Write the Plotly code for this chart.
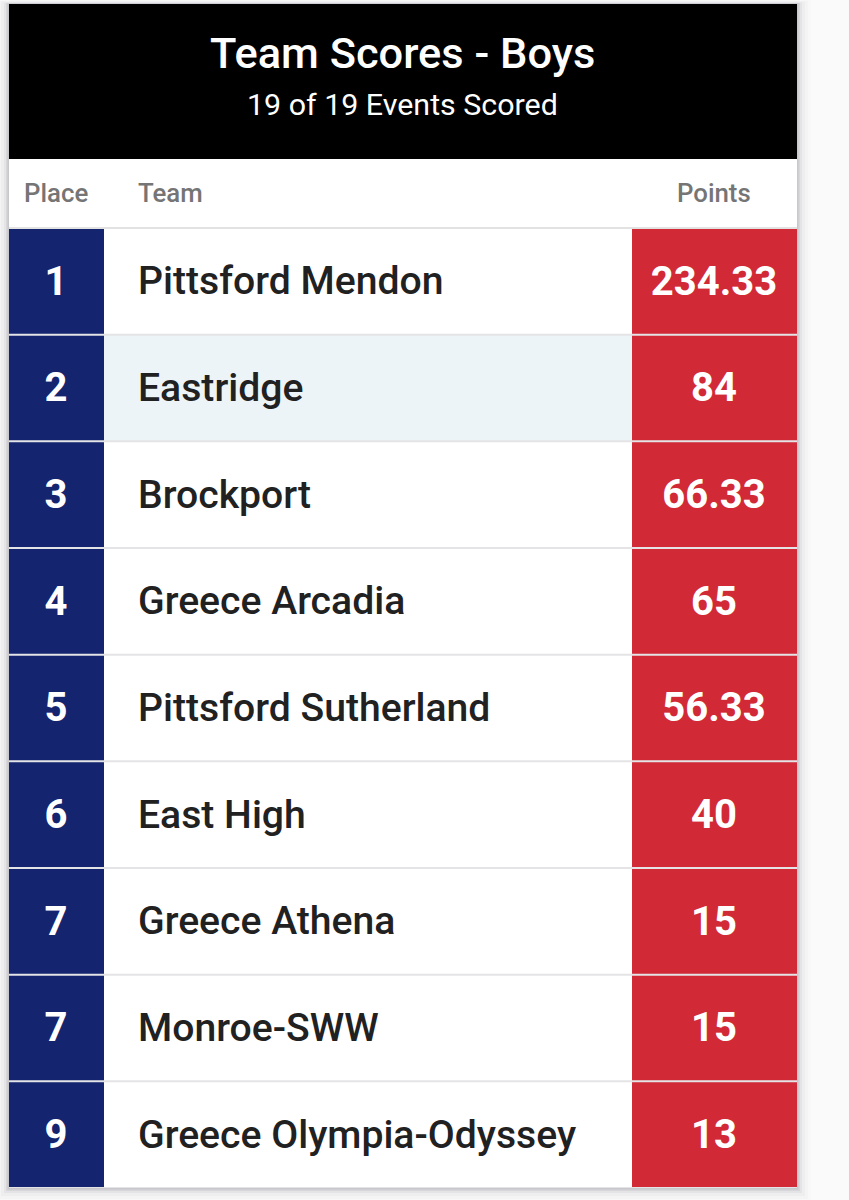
import plotly.graph_objects as go

title_text = "Team Scores - Boys"
subtitle_text = "19 of 19 Events Scored"
header_labels = ["Place", "Team", "Points"]
places = [1, 2, 3, 4, 5, 6, 7, 7, 9]
teams = ["Pittsford Mendon", "Eastridge", "Brockport", "Greece Arcadia", "Pittsford Sutherland",
         "East High", "Greece Athena", "Monroe-SWW", "Greece Olympia-Odyssey"]
points = [234.33, 84, 66.33, 65, 56.33, 40, 15, 15, 13]
highlighted_team = "Eastridge"

W, H = 849, 1200
L, R, T, B = 9, 797, 228, 1187.7
NAVY, RED, BLACK = "#14246f", "#d22936", "#000000"
col_place, col_team, col_points = 95, 528, 165
n = len(teams)
bar_w = 0.981
text_drop = 3.2 / 106.6
point_labels = [f"{v:g}" for v in points]

fig = go.Figure()
fig.add_bar(orientation="h", y=teams, x=[col_place] * n, base=0, width=bar_w, marker=dict(color=NAVY, line_width=0))
fig.add_bar(orientation="h", y=teams, x=[col_team] * n, base=col_place, width=bar_w,
            marker=dict(color=["#edf4f8" if t == highlighted_team else "#ffffff" for t in teams], line_width=0))
fig.add_bar(orientation="h", y=teams, x=[col_points] * n, base=col_place + col_team, width=bar_w,
            marker=dict(color=RED, line_width=0))

fig.add_scatter(mode="text", y=teams, yaxis="y2", x=[col_place / 2 - 0.5] * n, text=[str(p) for p in places],
                textposition="middle center",
                textfont=dict(family="Roboto", size=40, color="#ffffff", weight=700))
fig.add_scatter(mode="text", y=teams, yaxis="y2", x=[col_place + 34] * n, text=teams, textposition="middle right",
                textfont=dict(family="Roboto", size=39.15, color="#212121", weight=500))
fig.add_scatter(mode="text", y=teams, yaxis="y2", x=[col_place + col_team + col_points / 2 - 0.5] * n,
                text=point_labels, textposition="middle center",
                textfont=dict(family="Roboto", size=40, color="#ffffff", weight=700))

def px(x): return (x - L) / (R - L)
def py(y): return 1 - (y - T) / (B - T)

shapes = []
for grow, op in [(14, 0.012), (11, 0.02), (8, 0.03), (5, 0.05), (3, 0.07), (1.5, 0.09)]:
    shapes.append(dict(type="rect", xref="paper", yref="paper", layer="below", line_width=0,
                       fillcolor=f"rgba(60,60,70,{op})",
                       x0=px(L - grow), x1=px(R + grow), y0=py(4 - grow * 0.3), y1=py(B + grow)))
shapes.append(dict(type="rect", xref="paper", yref="paper", layer="above", line_width=0, fillcolor=BLACK,
                   x0=px(L), x1=px(R), y0=py(4), y1=py(159)))
shapes.append(dict(type="rect", xref="paper", yref="paper", layer="above", line_width=0, fillcolor="#ffffff",
                   x0=px(L), x1=px(R), y0=py(159), y1=py(227)))
shapes.append(dict(type="rect", xref="paper", yref="paper", layer="above", line_width=0, fillcolor="#e2e2e2",
                   x0=px(L), x1=px(R), y0=py(227), y1=py(229)))
shapes.append(dict(type="rect", xref="paper", yref="paper", layer="below", line_width=0, fillcolor="#e4e4e6",
                   x0=px(L), x1=px(R), y0=py(T), y1=py(B)))

def note(text, x, y, size, color, weight=400):
    return dict(text=text, x=px(x), y=py(y), xref="paper", yref="paper", showarrow=False, xanchor="center",
                yanchor="middle", font=dict(family="Roboto", size=size, color=color, weight=weight))

annotations = [
    note(title_text, 402, 53.5, 43.4, "#ffffff", 500),
    note(subtitle_text, 402.5, 105, 30.4, "#ffffff", 400),
    note(header_labels[0], 56, 193, 25.8, "#757575", 500),
    note(header_labels[1], 170.5, 193, 25.8, "#757575", 500),
    note(header_labels[2], 714, 193, 25.8, "#757575", 500),
]

fig.update_layout(
    width=W, height=H, margin=dict(l=L, r=W - R, t=T, b=H - B), barmode="overlay", showlegend=False,
    paper_bgcolor="#fafafb", plot_bgcolor="#e4e4e6", hovermode=False,
    xaxis=dict(range=[0, R - L], visible=False, fixedrange=True),
    yaxis=dict(categoryorder="array", categoryarray=teams, range=[n - 0.5, -0.5], visible=False, fixedrange=True),
    yaxis2=dict(overlaying="y", categoryorder="array", categoryarray=teams,
                range=[n - 0.5 - text_drop, -0.5 - text_drop], visible=False, fixedrange=True),
    shapes=shapes, annotations=annotations,
)
fig.write_html("out.html", config=dict(displayModeBar=False),
               post_script="document.body.style.margin='0';")
